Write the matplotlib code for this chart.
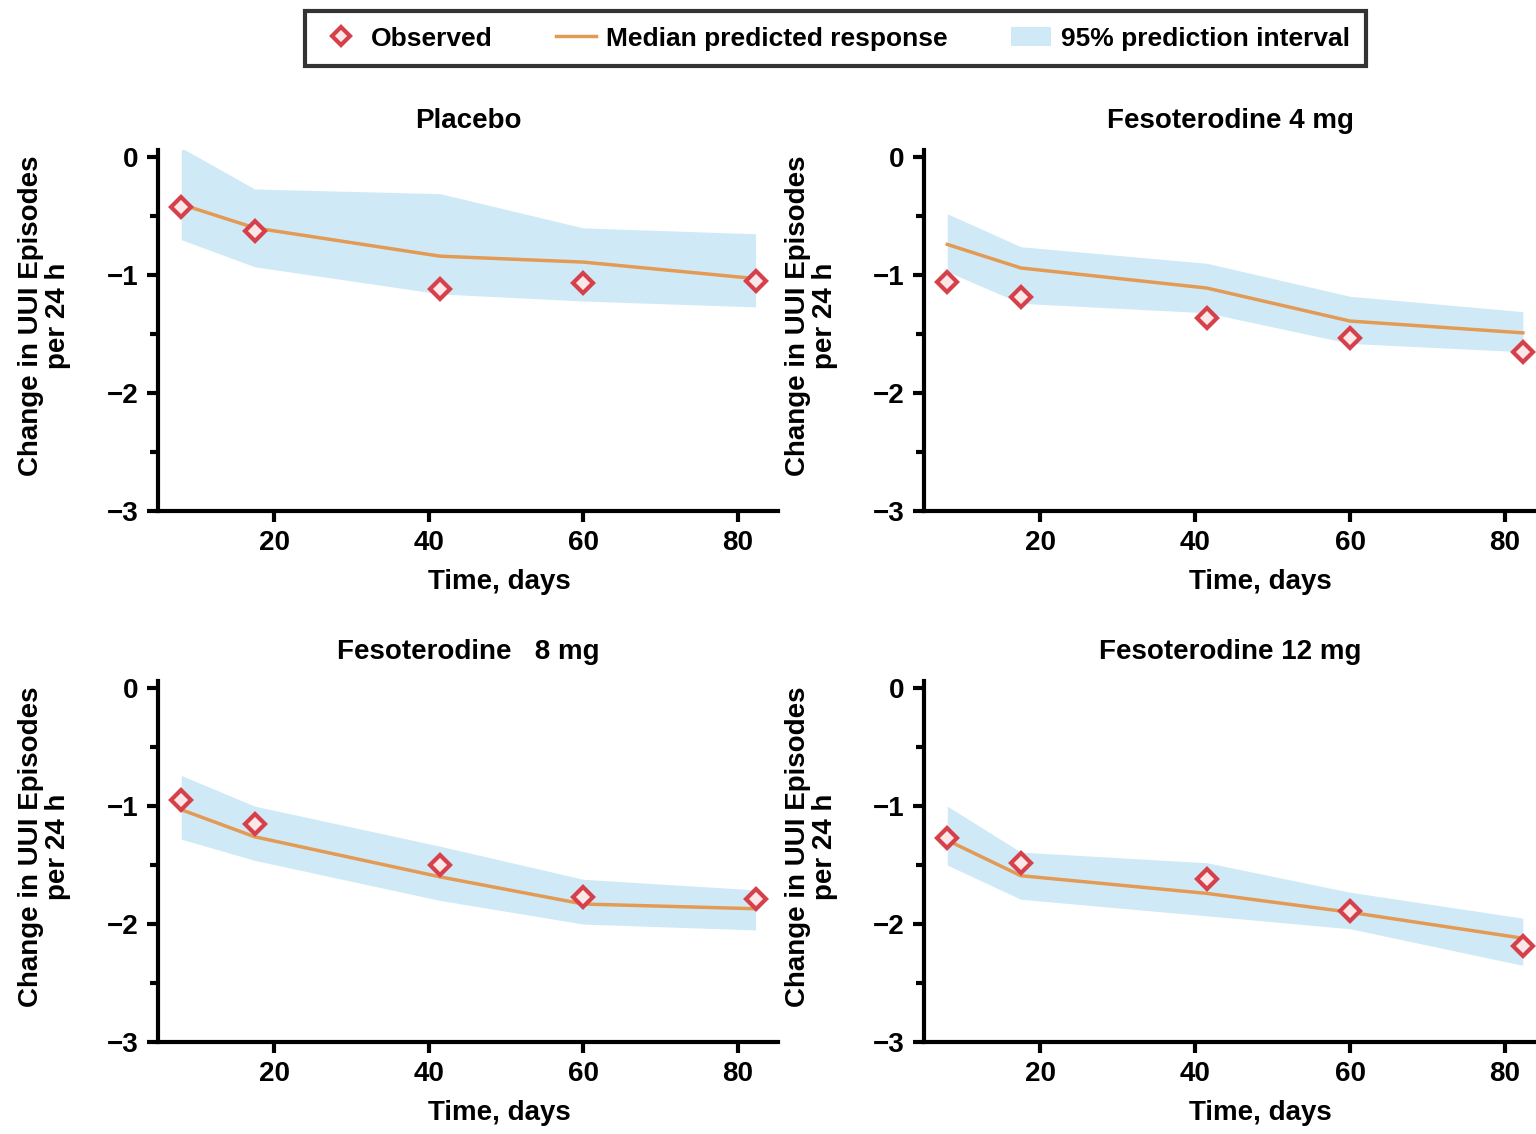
import numpy as np
import matplotlib
matplotlib.use("Agg")
import matplotlib.pyplot as plt
from matplotlib.lines import Line2D
from matplotlib.patches import Patch

plt.rcParams['font.family'] = ['Liberation Sans', 'DejaVu Sans']
plt.rcParams['font.weight'] = 'bold'

# visit days (observed and predicted share the same nodes)
days = [8, 17.5, 41.5, 60, 82.3]

titles = ["Placebo", "Fesoterodine 4 mg", "Fesoterodine   8 mg", "Fesoterodine 12 mg"]

placebo_obs = [-0.42, -0.63, -1.12, -1.07, -1.05]
placebo_med = [-0.40, -0.60, -0.84, -0.89, -1.03]
placebo_lo = [-0.70, -0.93, -1.16, -1.22, -1.27]
placebo_hi = [0.08, -0.27, -0.31, -0.60, -0.65]

f4_obs = [-1.06, -1.19, -1.36, -1.53, -1.65]
f4_med = [-0.74, -0.94, -1.11, -1.39, -1.49]
f4_lo = [-0.97, -1.24, -1.32, -1.58, -1.65]
f4_hi = [-0.48, -0.76, -0.90, -1.18, -1.31]

f8_obs = [-0.95, -1.15, -1.50, -1.77, -1.79]
f8_med = [-1.03, -1.26, -1.60, -1.83, -1.87]
f8_lo = [-1.28, -1.46, -1.80, -2.00, -2.05]
f8_hi = [-0.74, -1.00, -1.34, -1.62, -1.71]

f12_obs = [-1.27, -1.48, -1.62, -1.89, -2.19]
f12_med = [-1.29, -1.59, -1.74, -1.90, -2.12]
f12_lo = [-1.50, -1.79, -1.93, -2.04, -2.35]
f12_hi = [-1.00, -1.39, -1.48, -1.73, -1.95]

panels = [
    (placebo_obs, placebo_med, placebo_lo, placebo_hi),
    (f4_obs, f4_med, f4_lo, f4_hi),
    (f8_obs, f8_med, f8_lo, f8_hi),
    (f12_obs, f12_med, f12_lo, f12_hi),
]

BAND = '#cfeaf6'
LINE = '#e39a55'
MEDGE = '#d6404a'
MFACE = '#fbe6e8'

fig = plt.figure(figsize=(15.36, 11.34), dpi=100)

# [left, bottom, width, height] in figure fractions
boxes = [
    [0.1029, 0.5494, 0.4036, 0.3183],
    [0.6016, 0.5494, 0.3984, 0.3183],
    [0.1029, 0.0811, 0.4036, 0.3183],
    [0.6016, 0.0811, 0.3984, 0.3183],
]
xmax = [85.2, 84.0, 85.2, 84.0]

for i, (obs, med, lo, hi) in enumerate(panels):
    ax = fig.add_axes(boxes[i])
    ax.fill_between(days, lo, hi, color=BAND, lw=0, zorder=1)
    ax.plot(days, med, color=LINE, lw=2.5, zorder=2)
    ax.plot(days, obs, ls='none', marker='D', ms=10, mew=3,
            mec=MEDGE, mfc=MFACE, zorder=3)

    ax.set_xlim(5, xmax[i])
    ax.set_ylim(-3, 0.06)
    ax.set_xticks([20, 40, 60, 80])
    ax.set_yticks([0, -1, -2, -3])
    ax.set_yticklabels(['0', '\u22121', '\u22122', '\u22123'])
    ax.set_yticks([-0.5, -1.5, -2.5], minor=True)
    for s in ['top', 'right']:
        ax.spines[s].set_visible(False)
    for s in ['left', 'bottom']:
        ax.spines[s].set_linewidth(3)
    ax.tick_params(which='both', direction='out', width=3, labelsize=20, pad=6)
    ax.tick_params(which='major', length=8)
    ax.tick_params(which='minor', length=6)
    ax.set_title(titles[i], fontsize=20, fontweight='bold', pad=16)
    ax.set_xlabel('Time, days', fontsize=20, fontweight='bold')
    ax.xaxis.set_label_coords(0.55, -0.16)
    ax.set_ylabel('Change in UUI Episodes\nper 24 h', fontsize=20,
                  fontweight='bold', linespacing=1.05)
    ax.yaxis.set_label_coords(-0.14, 0.54)

handles = [
    Line2D([], [], ls='none', marker='D', ms=9, mew=3, mec=MEDGE, mfc=MFACE),
    Line2D([], [], color=LINE, lw=2.5),
    Patch(facecolor=BAND, edgecolor='none'),
]
labels = ['Observed', 'Median predicted response', '95% prediction interval']
leg = fig.legend(handles, labels, loc='center', bbox_to_anchor=(0.544, 0.966),
                 ncol=3, fontsize=19, frameon=True, fancybox=False,
                 columnspacing=2.4, handlelength=1.5, handletextpad=0.4,
                 borderpad=0.6)
leg.get_frame().set_edgecolor('black')
leg.get_frame().set_linewidth(3)

fig.savefig('out.png', dpi=100)
